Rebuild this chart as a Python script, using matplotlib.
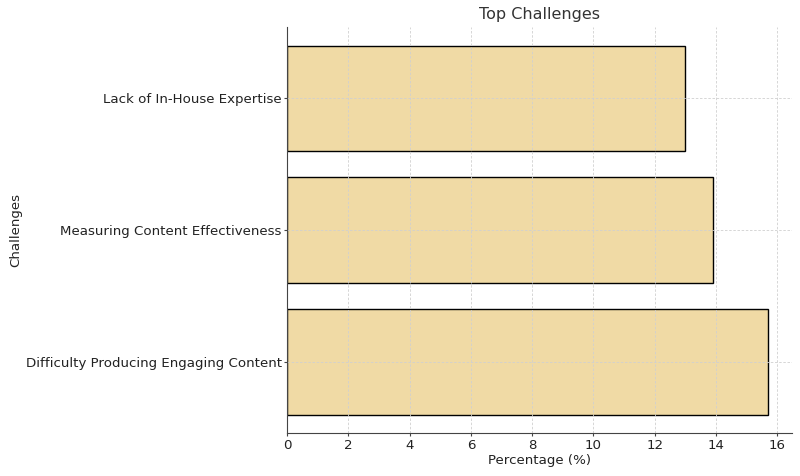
import matplotlib.pyplot as plt

challenges = ['Difficulty Producing Engaging Content',
              'Measuring Content Effectiveness',
              'Lack of In-House Expertise']
percentages = [15.7, 13.9, 13.0]

fig, ax = plt.subplots(figsize=(8, 4.76), dpi=100)
ax.barh(challenges, percentages, height=0.8, color='#F0DAA5', edgecolor='black', linewidth=1)
ax.set_axisbelow(False)
ax.grid(True, linestyle=(0, (3, 2)), color='#d0d0d0', linewidth=0.6)
for s in ['top', 'right']:
    ax.spines[s].set_visible(False)
for s in ['left', 'bottom']:
    ax.spines[s].set_color('#444444')
    ax.spines[s].set_zorder(5)
ax.tick_params(labelsize=9.6, length=2.5, width=0.8, pad=1.5, color='#444444', labelcolor='#222222')
ax.set_xlabel('Percentage (%)', fontsize=9.6, color='#222222', labelpad=2)
ax.set_ylabel('Challenges', fontsize=9.6, color='#222222', labelpad=2)
ax.set_title('Top Challenges', fontsize=11.5, color='#333333', pad=6)
plt.subplots_adjust(left=0.359, right=0.99, top=0.943, bottom=0.09)
plt.savefig('out.png')
